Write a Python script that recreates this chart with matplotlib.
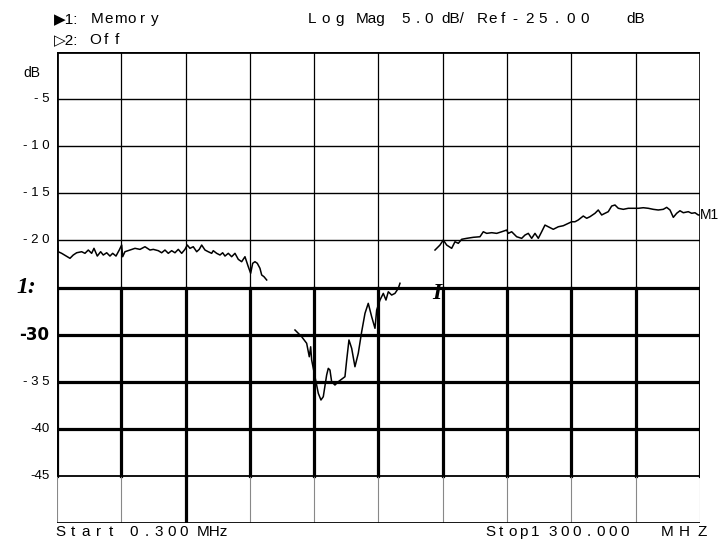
import matplotlib
matplotlib.use("Agg")
import matplotlib.pyplot as plt

# sweep settings
f_start = 0.3
f_stop = 1300.0
ref_db = -25.0
db_per_div = 5.0

# trace, three pieces (gaps where the plotter lifted)
f_seg1 = [0.3, 2.9, 9.8, 26.6, 33.2, 40.1, 50.2, 56.9, 63.6, 70.4, 75.1, 81.8, 88.6, 93.9,
          100.8, 107.4, 112.9, 119.6, 126.2, 131.1, 133.1, 137.7, 147.9, 158.0, 168.1, 178.2,
          188.3, 195.0, 205.1, 211.9, 218.6, 225.3, 232.1, 238.8, 245.5, 252.4, 259.0, 263.7,
          269.1, 275.8, 282.7, 287.9, 292.8, 299.5, 306.1, 313.0, 316.2, 323.1, 329.8, 335.2,
          339.9, 346.6, 353.4, 360.1, 366.8, 373.6, 380.3, 387.0, 391.8, 395.9, 400.5, 405.2,
          410.6, 414.1, 418.7, 424.2]
db_seg1 = [-19.43, -21.20, -21.37, -21.90, -21.55, -21.31, -21.20, -21.37, -21.02, -21.37,
           -20.84, -21.66, -21.20, -21.55, -21.31, -21.66, -21.37, -21.66, -21.02, -20.49,
           -21.73, -21.20, -21.02, -20.84, -20.95, -20.67, -21.02, -20.95, -21.09, -21.31,
           -21.02, -21.37, -21.09, -21.31, -20.95, -21.37, -20.95, -20.49, -20.84, -20.67,
           -21.20, -20.95, -20.49, -21.02, -21.20, -21.37, -21.09, -21.37, -21.55, -21.31,
           -21.66, -21.37, -21.73, -21.37, -22.01, -22.26, -21.73, -22.79, -23.49, -22.43,
           -22.26, -22.43, -22.96, -23.67, -23.85, -24.20]

f_seg2 = [481.4, 494.9, 505.0, 510.3, 513.1, 515.1, 521.8, 528.5, 533.9, 538.6, 545.4, 548.7,
          552.1, 555.5, 562.2, 568.9, 582.4, 585.9, 590.5, 596.0, 602.6, 609.3, 616.2, 622.9,
          629.5, 636.4, 643.1, 646.5, 653.2, 659.9, 665.3, 670.0, 676.8, 683.5, 690.2, 693.6]
db_seg2 = [-29.51, -30.22, -30.92, -32.35, -31.29, -32.70, -34.47, -36.23, -36.94, -36.59,
           -34.29, -33.58, -33.76, -35.00, -35.35, -35.00, -34.47, -32.70, -30.57, -31.46,
           -33.41, -31.99, -29.69, -27.74, -26.68, -28.10, -29.33, -27.39, -26.33, -25.62,
           -26.33, -25.45, -25.80, -25.62, -25.09, -24.55]

f_seg3 = [764.4, 774.5, 781.2, 788.0, 798.1, 804.8, 811.5, 818.3, 828.4, 841.8, 855.3, 862.0,
          868.9, 879.0, 889.1, 899.2, 909.3, 912.5, 919.4, 929.5, 939.6, 946.3, 953.0, 959.8,
          966.5, 973.2, 980.0, 986.7, 993.4, 1003.5, 1013.6, 1023.7, 1033.8, 1040.6, 1047.3,
          1054.0, 1064.1, 1071.0, 1077.7, 1087.8, 1094.4, 1101.3, 1108.0, 1114.6, 1121.5,
          1128.2, 1134.9, 1145.0, 1155.1, 1165.2, 1175.3, 1185.4, 1195.5, 1205.6, 1215.7,
          1225.8, 1232.7, 1239.4, 1246.1, 1252.9, 1259.6, 1266.3, 1276.4, 1283.2, 1289.9,
          1296.5, 1300.0]
db_seg3 = [-21.02, -20.49, -19.96, -20.49, -20.84, -20.14, -20.31, -19.88, -19.78, -19.67,
           -19.61, -19.08, -19.25, -19.18, -19.25, -19.08, -18.90, -19.25, -19.08, -19.61,
           -19.78, -19.43, -19.25, -19.78, -19.25, -19.78, -19.08, -18.37, -18.55, -18.82,
           -18.55, -18.44, -18.19, -18.02, -18.02, -17.83, -17.41, -17.65, -17.48, -17.12,
           -16.77, -17.30, -17.12, -16.95, -16.35, -16.24, -16.59, -16.70, -16.59, -16.59,
           -16.59, -16.53, -16.59, -16.70, -16.77, -16.70, -16.49, -16.77, -17.55, -17.12,
           -16.85, -17.06, -16.95, -17.12, -17.06, -17.30, -17.30]

y_ticks = [-5, -10, -15, -20, -25, -30, -35, -40, -45]
y_tick_labels = ["- 5", "- 1 0", "- 1 5", "- 2 0", "1:", "-30", "- 3 5", "-40", "-45"]

W, H = 722, 543
face = ["Liberation Sans", "DejaVu Sans"]
txt_size = 11

fig = plt.figure(figsize=(W / 100, H / 100), dpi=100)
ax = fig.add_axes([0.0789, 0.0368, 0.8906, 0.8674])
ax.set_xlim(f_start, f_stop)
ax.set_ylim(ref_db - 5 * db_per_div, ref_db + 5 * db_per_div)
ax.axis("off")


def spaced(xc, y0, s, pitch, size=txt_size):
    # analyzer lettering: glyphs centred on a fixed pitch (pixels)
    for i, ch in enumerate(s):
        if ch != " ":
            fig.text((xc + i * pitch) / W, 1 - y0 / H, ch, ha="center", va="center",
                     fontsize=size, family=face)


def plain(x0, y0, s, size=txt_size):
    fig.text(x0 / W, 1 - y0 / H, s, ha="left", va="center", fontsize=size, family=face)


span = f_stop - f_start
xs = [f_start + k * span / 10 for k in range(11)]

# upper half of the graticule: fine lines
for x in xs[1:-1]:
    ax.plot([x, x], [0, -25], color="black", lw=0.9)
for y in [-5, -10, -15, -20]:
    ax.plot([f_start, f_stop], [y, y], color="black", lw=1.0)
ax.plot([f_start, f_stop], [0, 0], color="black", lw=2.0)
ax.plot([f_start, f_start], [0, -25], color="black", lw=2.0)
ax.plot([f_stop, f_stop], [0, -25], color="black", lw=1.2)

# lower half: heavy lines
for x in xs:
    ax.plot([x, x], [-25, -45], color="black", lw=2.3)
    ax.plot([x, x], [-45, -50], color="#888888", lw=0.8)
ax.plot([xs[2], xs[2]], [-45, -50], color="black", lw=2.3)
for y in [-25, -30, -35, -40]:
    ax.plot([f_start, f_stop], [y, y], color="black", lw=2.3)
ax.plot([f_start, f_stop], [-45, -45], color="black", lw=1.3)
ax.plot([f_start, f_stop], [-50, -50], color="black", lw=2.0)

# trace
for fx, dy in [(f_seg1, db_seg1), (f_seg2, db_seg2), (f_seg3, db_seg3)]:
    ax.plot(fx, dy, color="black", lw=1.1)

# y labels
ytr = ax.get_yaxis_transform()
for y, lab in zip(y_ticks, y_tick_labels):
    if lab == "1:":
        ax.text(-0.033, y, lab, transform=ytr, ha="right", va="center", fontsize=17,
                family="Liberation Serif", weight="bold", style="italic")
    elif lab == "-30":
        ax.text(-0.012, y, lab, transform=ytr, ha="right", va="center", fontsize=12,
                weight="bold")
    else:
        ax.text(-0.012, y, lab, transform=ytr, ha="right", va="center", fontsize=9.5,
                family=face)
ax.text(-0.026, -2.2, "dB", transform=ytr, ha="right", va="center", fontsize=10, family=face)

ax.text(1.0, -17.3, "M1", transform=ytr, ha="left", va="center", fontsize=10, family=face)
ax.text(768, -25.6, "I", ha="center", va="center", fontsize=17, family="Liberation Serif",
        weight="bold", style="italic")

# header
plain(54, 19, "\u25b61:")
spaced(97, 19, "Memory", 11.5)
spaced(312, 19, "Log", 14)
plain(356, 19, "Mag")
spaced(406, 19, "5.0", 11.5)
plain(441, 19, "dB/")
spaced(482, 19, "Ref", 10.5)
spaced(515, 19, "-25.00", 14)
plain(626, 19, "dB")
plain(54, 40, "\u25b72:")
spaced(95, 40, "Off", 11)

# footer
spaced(60, 532, "Start", 12.8)
spaced(134, 532, "0.300", 12.5)
plain(197, 532, "MHz")
spaced(490, 532, "Stop1", 11.2)
spaced(553, 532, "300.000", 12)
spaced(667, 532, "MHZ", 17.5)

fig.savefig("out.png", dpi=100)
